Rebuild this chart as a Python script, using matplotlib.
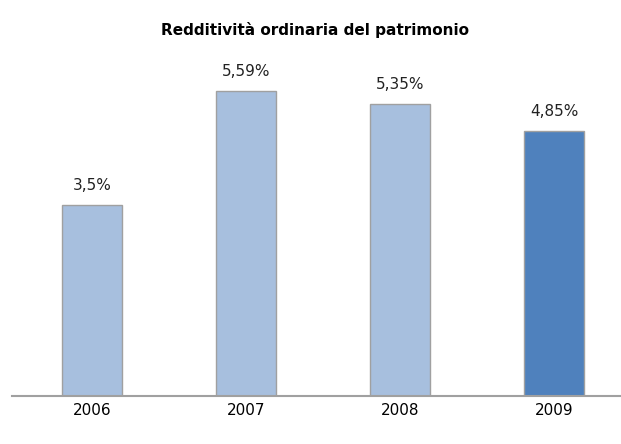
import matplotlib.pyplot as plt

years = ["2006", "2007", "2008", "2009"]
values = [3.5, 5.59, 5.35, 4.85]
labels = ["3,5%", "5,59%", "5,35%", "4,85%"]
colors = ["#A7BFDE", "#A7BFDE", "#A7BFDE", "#4F81BD"]

W, H = 621, 444
fig = plt.figure(figsize=(W / 100, H / 100), dpi=100)
# axes from x=12 to 621, y=60 to 396 (pixels)
ax = fig.add_axes([12 / W, 1 - 396 / H, (621 - 12) / W, (396 - 60) / H])

x = list(range(len(years)))
ax.bar(x, values, width=0.39, color=colors, edgecolor="#A0A0A0", linewidth=1.0)

for xi, v, lab in zip(x, values, labels):
    ax.text(xi, v + 0.22, lab, ha="center", va="bottom", fontsize=11, color="#222222")

ax.set_xlim(-0.52, 3.435)
ax.set_ylim(0, 6.16)
ax.set_yticks([])
ax.set_xticks(x)
ax.set_xticklabels(years, fontsize=11)
ax.tick_params(axis="x", length=0, pad=5)

for s in ["top", "right", "left"]:
    ax.spines[s].set_visible(False)
ax.spines["bottom"].set_color("#A0A0A0")
ax.spines["bottom"].set_linewidth(1.5)

fig.text(315 / W, 1 - 30 / H, "Redditività ordinaria del patrimonio",
         ha="center", va="center", fontsize=11, fontweight="bold")

fig.savefig("out.png", dpi=100)
